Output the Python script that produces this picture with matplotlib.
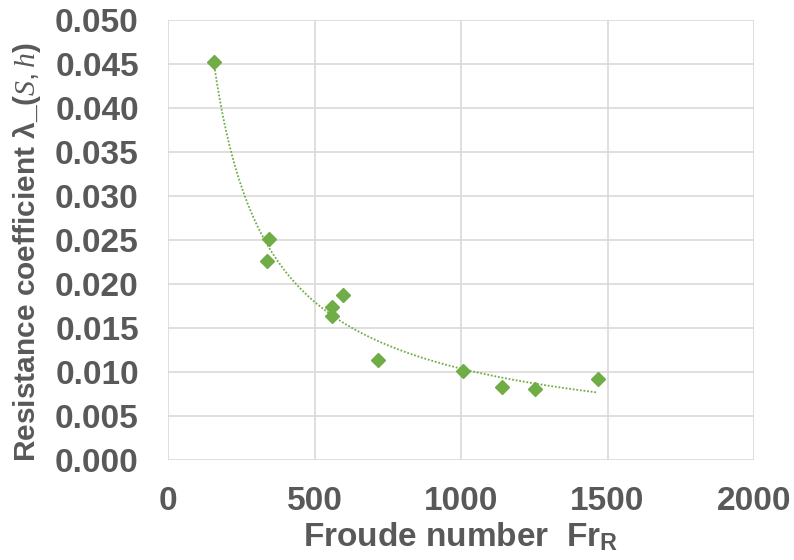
import numpy as np
import matplotlib
matplotlib.use("Agg")
import matplotlib.pyplot as plt

plt.rcParams['font.family'] = ['Liberation Sans', 'DejaVu Sans']
plt.rcParams['mathtext.fontset'] = 'custom'
plt.rcParams['mathtext.rm'] = 'Liberation Sans'
plt.rcParams['mathtext.bf'] = 'Liberation Sans:bold'
plt.rcParams['mathtext.it'] = 'Liberation Serif:italic'

froude = [158, 344, 338, 596, 560, 560, 718, 1007, 1140, 1252, 1466]
resistance = [0.0452, 0.0251, 0.0226, 0.0187, 0.0174, 0.0164, 0.0114, 0.0101, 0.0083, 0.0081, 0.0092]
x_ticks = [0, 500, 1000, 1500, 2000]
y_ticks = [0.000, 0.005, 0.010, 0.015, 0.020, 0.025, 0.030, 0.035, 0.040, 0.045, 0.050]

green = '#70AD47'
grey = '#595959'

fig = plt.figure(figsize=(7.94, 5.6), dpi=100)
ax = fig.add_axes([168/794, 1 - 460/560, (754-168)/794, (460-20)/560])

x = np.array(froude, float)
y = np.array(resistance, float)
b, loga = np.polyfit(np.log(x), np.log(y), 1)
xf = np.linspace(x.min(), x.max(), 300)
ax.plot(xf, np.exp(loga) * xf**b, linestyle=(0, (1, 1)), color=green, lw=1.3, zorder=2)
ax.plot(x, y, linestyle='none', marker='D', markersize=7.5, color=green, zorder=3)

ax.set_xlim(0, 2000)
ax.set_ylim(0, 0.050)
ax.set_xticks(x_ticks)
ax.set_yticks(y_ticks)
ax.set_xticklabels([str(v) for v in x_ticks])
ax.set_yticklabels([f"{v:.3f}" for v in y_ticks])
for s in ax.spines.values():
    s.set_visible(False)
ax.grid(True, color='#D9D9D9', lw=1.2)
ax.set_axisbelow(True)
ax.tick_params(length=0, labelsize=24, labelcolor=grey)
ax.tick_params(axis='x', pad=19)
ax.tick_params(axis='y', pad=21)
for lbl in ax.get_xticklabels() + ax.get_yticklabels():
    lbl.set_fontweight('bold')

ax.set_xlabel(r"Froude number  Fr$_{\mathbf{R}}$", fontsize=24, fontweight='bold', color=grey, labelpad=2)
ax.set_ylabel(r"Resistance coefficient λ_($S,h$)", fontsize=21.5, fontweight='bold', color=grey)
ax.yaxis.set_label_coords(-0.213, 0.472)

fig.savefig('out.png', dpi=100)
